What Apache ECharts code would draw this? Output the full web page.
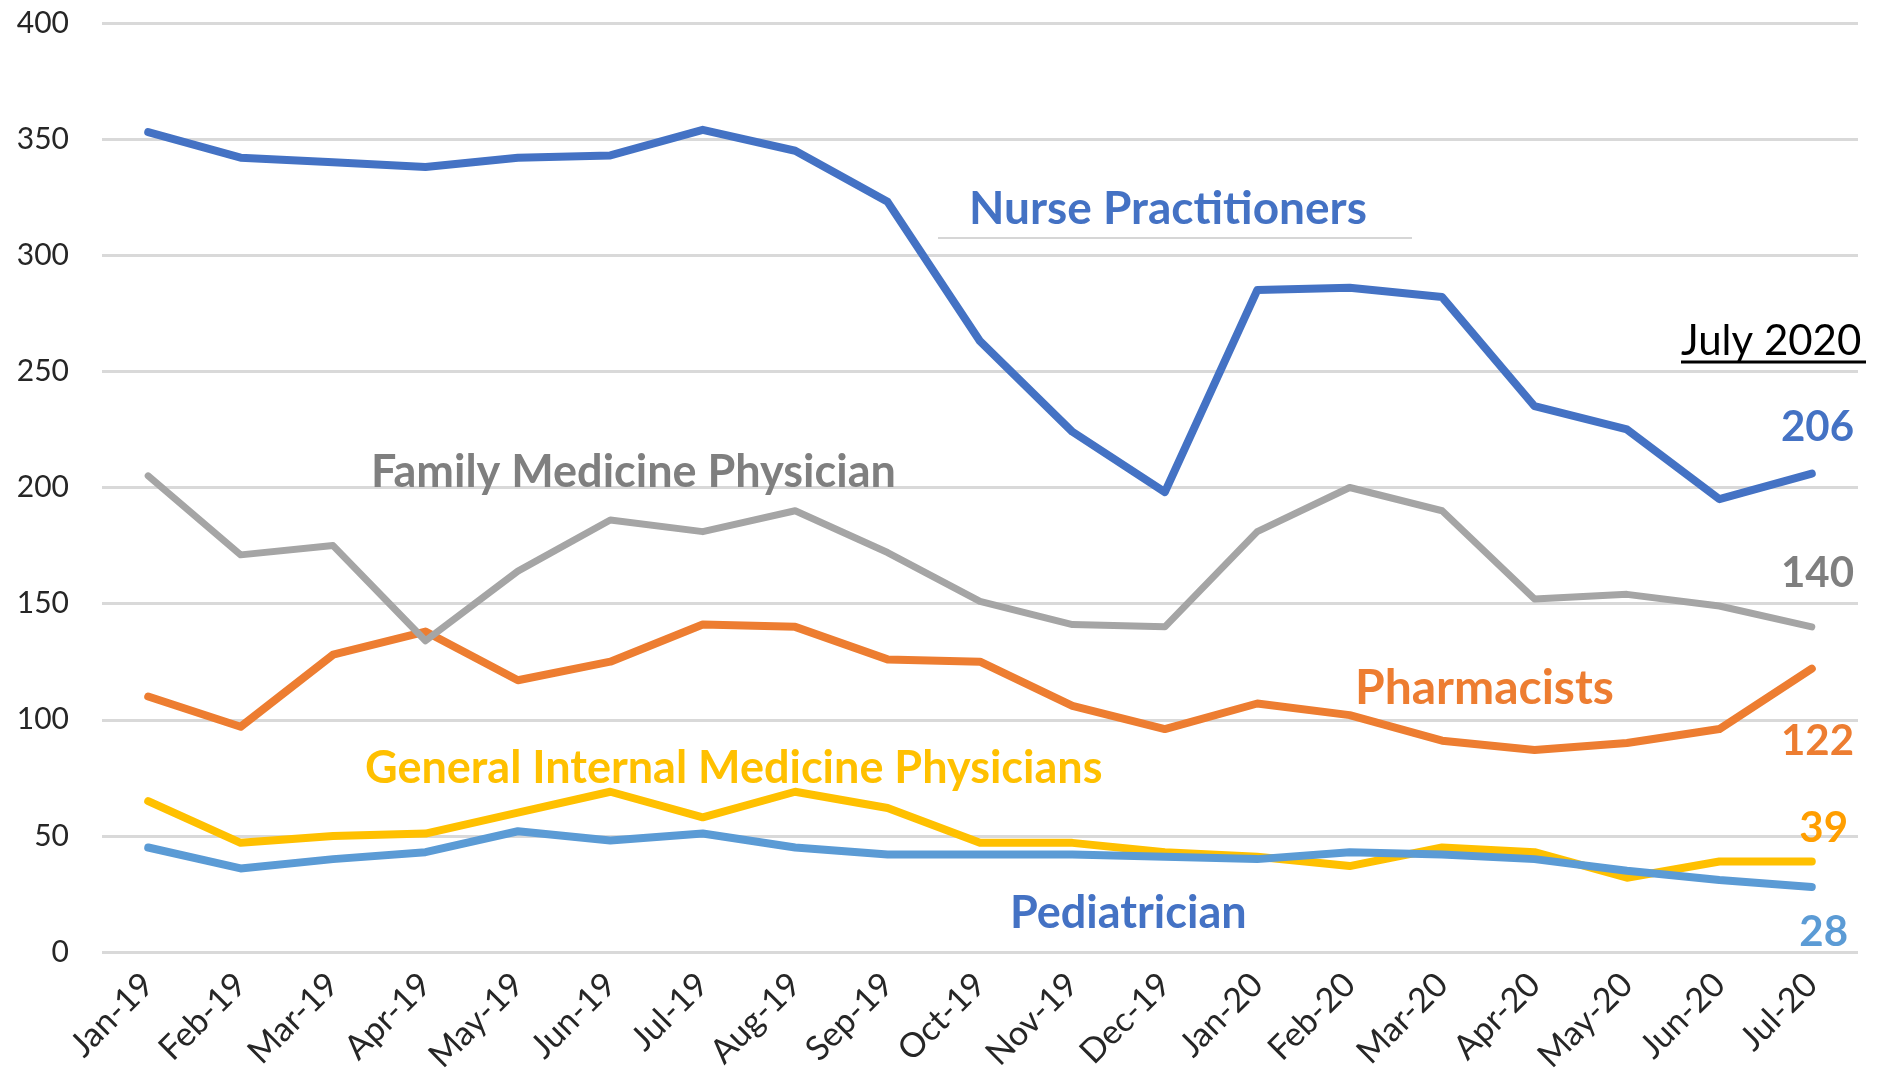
<!DOCTYPE html>
<html>
<head>
<meta charset="utf-8">
<script src="https://cdn.jsdelivr.net/npm/echarts@6/dist/echarts.min.js"></script>
<style>
html,body{margin:0;padding:0;background:#fff;}
#chart{width:1879px;height:1076px;}
</style>
</head>
<body>
<div id="chart"></div>
<script>
const months = ['Jan-19','Feb-19','Mar-19','Apr-19','May-19','Jun-19','Jul-19','Aug-19','Sep-19','Oct-19','Nov-19','Dec-19','Jan-20','Feb-20','Mar-20','Apr-20','May-20','Jun-20','Jul-20'];
const nursePractitioners = [353,342,340,338,342,343,354,345,323,263,224,198,285,286,282,235,225,195,206];
const familyMedicine = [205,171,175,134,164,186,181,190,172,151,141,140,181,200,190,152,154,149,140];
const pharmacists = [110,97,128,138,117,125,141,140,126,125,106,96,107,102,91,87,90,96,122];
const generalInternal = [65,47,50,51,60,69,58,69,62,47,47,43,41,37,45,43,32,39,39];
const pediatrician = [45,36,40,43,52,48,51,45,42,42,42,41,40,43,42,40,35,31,28];
const yTicks = [0,50,100,150,200,250,300,350,400];
const seriesNames = ['Nurse Practitioners','Pharmacists','Family Medicine Physician','General Internal Medicine Physicians','Pediatrician'];

const FONT = 'Lato, "Noto Sans", sans-serif';
const last = a => a[a.length - 1];

function lineSeries(name, data, color, width) {
  return {
    name: name, type: 'line', data: data, showSymbol: false, symbol: 'none',
    lineStyle: { color: color, width: width, cap: 'round', join: 'round' },
    itemStyle: { color: color }, animation: false, z: 3
  };
}

function txt(text, x, y, color, size, weight, align) {
  return {
    type: 'text', x: x, y: y, z: 10,
    style: { text: String(text), fill: color, font: (weight || 'bold') + ' ' + size + 'px ' + FONT,
             align: align || 'left', verticalAlign: 'middle' }
  };
}

const chart = echarts.init(document.getElementById('chart'), null, { renderer: 'canvas' });
chart.setOption({
  backgroundColor: '#ffffff',
  animation: false,
  grid: { left: 102, right: 21, top: 23, bottom: 120, containLabel: false },
  xAxis: {
    type: 'category', data: months, boundaryGap: true,
    axisLine: { show: false }, axisTick: { show: false },
    axisLabel: { rotate: 45, margin: 27, color: '#262626', fontSize: 34, fontFamily: FONT, interval: 0 }
  },
  yAxis: {
    type: 'value', min: yTicks[0], max: last(yTicks), interval: yTicks[1] - yTicks[0],
    axisLine: { show: false }, axisTick: { show: false },
    axisLabel: { color: '#262626', fontSize: 30, fontFamily: FONT, margin: 33 },
    splitLine: { lineStyle: { color: '#D9D9D9', width: 3 } }
  },
  series: [
    lineSeries(seriesNames[0], nursePractitioners, '#4472C4', 8),
    lineSeries(seriesNames[1], pharmacists, '#ED7D31', 8),
    lineSeries(seriesNames[2], familyMedicine, '#A5A5A5', 7),
    lineSeries(seriesNames[3], generalInternal, '#FFC000', 8),
    lineSeries(seriesNames[4], pediatrician, '#5B9BD5', 8)
  ],
  graphic: [
    { type: 'line', z: 9, shape: { x1: 938, y1: 238, x2: 1412, y2: 238 }, style: { stroke: '#C8C8C8', lineWidth: 1.5 } },
    txt(seriesNames[0], 969, 209, '#4472C4', 46),
    txt(seriesNames[2], 371, 472, '#7F7F7F', 45),
    txt(seriesNames[3], 365, 768, '#FFC000', 45),
    txt(seriesNames[1], 1355, 689, '#ED7D31', 48),
    txt(seriesNames[4], 1010, 913, '#4472C4', 45),
    txt('July 2020', 1681, 341, '#000000', 42, 'normal'),
    { type: 'line', z: 9, shape: { x1: 1681, y1: 362, x2: 1866, y2: 362 }, style: { stroke: '#000000', lineWidth: 3 } },
    txt(last(nursePractitioners), 1854, 427, '#4472C4', 42, 'bold', 'right'),
    txt(last(familyMedicine), 1854, 573, '#7F7F7F', 42, 'bold', 'right'),
    txt(last(pharmacists), 1854, 741, '#ED7D31', 42, 'bold', 'right'),
    txt(last(generalInternal), 1848, 828, '#FF9E00', 42, 'bold', 'right'),
    txt(last(pediatrician), 1848, 932, '#5B9BD5', 42, 'bold', 'right')
  ]
});
</script>
</body>
</html>
